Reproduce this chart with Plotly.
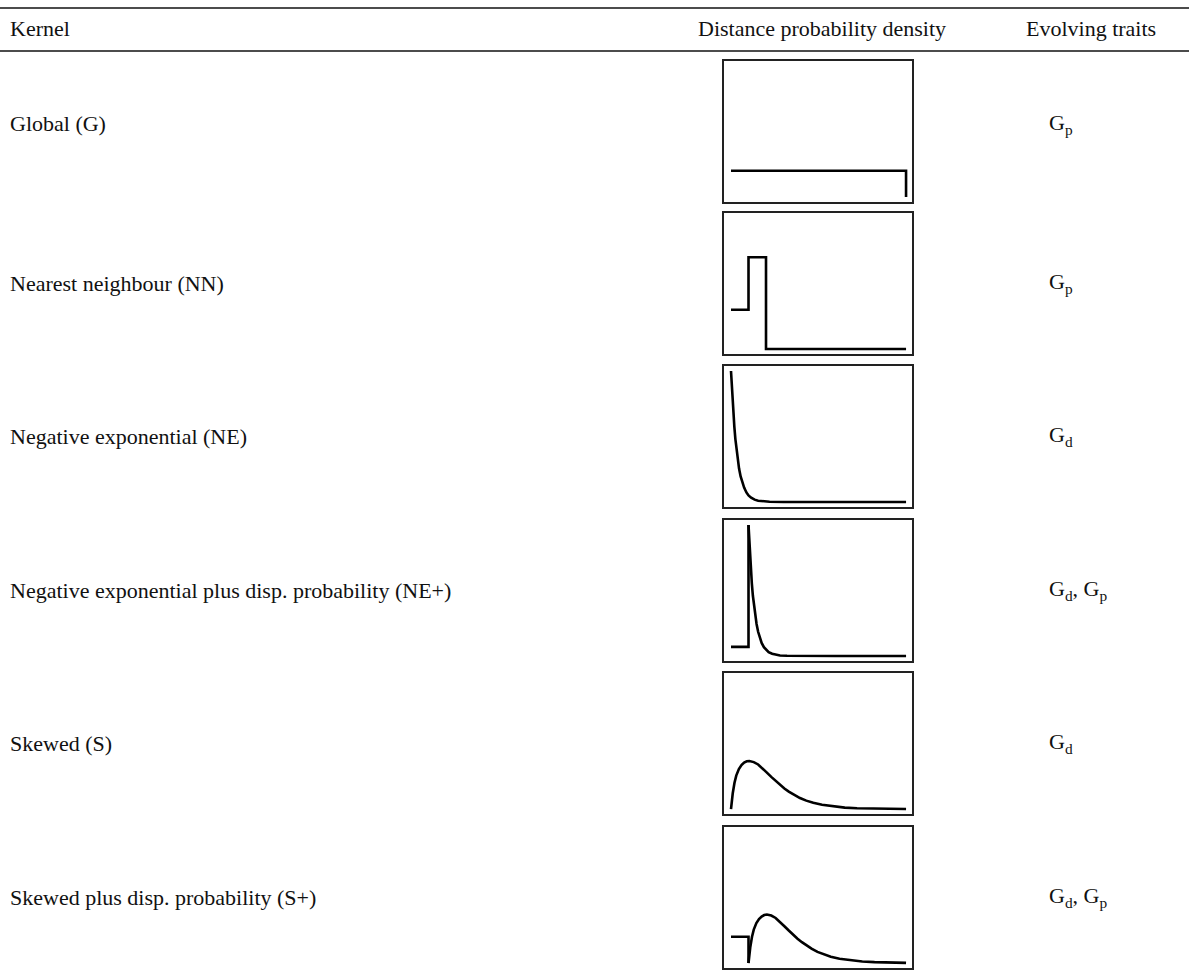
import plotly.graph_objects as go

W, H = 1189, 975

# Table text
header_labels = ["Kernel", "Distance probability density", "Evolving traits"]
kernel_names = [
    "Global (G)",
    "Nearest neighbour (NN)",
    "Negative exponential (NE)",
    "Negative exponential plus disp. probability (NE+)",
    "Skewed (S)",
    "Skewed plus disp. probability (S+)",
]
traits = [
    "G<sub>p</sub>",
    "G<sub>p</sub>",
    "G<sub>d</sub>",
    "G<sub>d</sub>, G<sub>p</sub>",
    "G<sub>d</sub>",
    "G<sub>d</sub>, G<sub>p</sub>",
]

# Kernel shapes (distance on x, relative density on y)
g_x = [0.0, 1.0, 1.0]
g_y = [0.2, 0.2, 0.0]

nn_x = [0.0, 0.1, 0.1, 0.2, 0.2, 1.0]
nn_y = [0.3, 0.3, 0.7, 0.7, 0.0, 0.0]

ne_x = [0.0, 0.004, 0.008, 0.013, 0.019, 0.025, 0.031, 0.038, 0.046, 0.055, 0.064,
        0.075, 0.088, 0.1, 0.115, 0.135, 0.155, 0.18, 0.22, 0.3, 0.5, 1.0]
ne_y = [1.0, 0.89, 0.80, 0.68, 0.575, 0.48, 0.40, 0.32, 0.255, 0.195, 0.15,
        0.11, 0.073, 0.05, 0.033, 0.018, 0.01, 0.005, 0.002, 0.0005, 0.0, 0.0]

nep_step_x = [0.0, 0.1, 0.1]
nep_step_y = [0.07, 0.07, 1.0]
nep_x = [0.1, 0.104, 0.108, 0.113, 0.119, 0.125, 0.131, 0.138, 0.146, 0.155, 0.164,
         0.175, 0.188, 0.2, 0.215, 0.235, 0.255, 0.28, 0.32, 0.4, 0.6, 1.0]
nep_y = [1.0, 0.88, 0.78, 0.66, 0.555, 0.46, 0.385, 0.31, 0.245, 0.185, 0.14,
         0.1, 0.068, 0.047, 0.03, 0.017, 0.009, 0.004, 0.0015, 0.0005, 0.0, 0.0]

s_x = [0.0, 0.005, 0.01, 0.02, 0.03, 0.045, 0.06, 0.075, 0.09, 0.105, 0.13,
       0.155, 0.18, 0.205, 0.23, 0.255, 0.28, 0.305, 0.33, 0.36, 0.394, 0.43,
       0.47, 0.52, 0.585, 0.65, 0.72, 0.8, 0.9, 1.0]
s_y = [0.0, 0.065, 0.12, 0.2, 0.255, 0.305, 0.336, 0.355, 0.364, 0.366, 0.358,
       0.34, 0.312, 0.278, 0.245, 0.213, 0.184, 0.157, 0.133, 0.108, 0.084, 0.064,
       0.047, 0.032, 0.019, 0.011, 0.006, 0.003, 0.001, 0.0]

sp_step_x = [0.0, 0.1, 0.1]
sp_step_y = [0.2, 0.2, 0.0]
sp_x = [0.1, 0.105, 0.11, 0.12, 0.13, 0.145, 0.16, 0.175, 0.19, 0.205, 0.23,
        0.255, 0.28, 0.305, 0.33, 0.355, 0.38, 0.405, 0.43, 0.46, 0.494, 0.53,
        0.57, 0.62, 0.685, 0.75, 0.82, 0.9, 0.96, 1.0]
sp_y = [0.0, 0.065, 0.12, 0.2, 0.255, 0.305, 0.336, 0.355, 0.366, 0.37, 0.362,
        0.344, 0.315, 0.281, 0.248, 0.215, 0.186, 0.159, 0.135, 0.11, 0.085, 0.065,
        0.048, 0.033, 0.02, 0.012, 0.007, 0.003, 0.0015, 0.001]

panels = [
    [(g_x, g_y)],
    [(nn_x, nn_y)],
    [(ne_x, ne_y)],
    [(nep_step_x, nep_step_y), (nep_x, nep_y)],
    [(s_x, s_y)],
    [(sp_step_x, sp_step_y), (sp_x, sp_y)],
]

# Pixel geometry of the table
box_left, box_right = 724, 912
box_tops = [61, 213, 366, 520, 673, 827]
box_h = 141
label_y = [124, 283, 436, 590, 743, 897]
font_family = "Liberation Serif, Times New Roman, serif"
font_size = 22
ink = "#111111"


def px(x):
    return x / W


def py(y):
    return 1 - y / H


fig = go.Figure()
layout_axes = {}
for i, traces in enumerate(panels):
    n = i + 1
    xa = "x" if n == 1 else f"x{n}"
    ya = "y" if n == 1 else f"y{n}"
    for (xs, ys) in traces:
        fig.add_trace(go.Scatter(
            x=xs, y=ys, mode="lines", xaxis=xa, yaxis=ya,
            line=dict(color="black", width=2.6),
            hoverinfo="skip", showlegend=False,
        ))
    top = box_tops[i]
    bot = top + box_h
    axis_style = dict(showline=True, mirror=True, linecolor="#222222", linewidth=1.5,
                      showticklabels=False, ticks="", showgrid=False, zeroline=False,
                      fixedrange=True)
    layout_axes["xaxis" if n == 1 else f"xaxis{n}"] = dict(
        domain=[px(box_left), px(box_right)], range=[-0.04, 1.034],
        anchor=ya, **axis_style)
    layout_axes["yaxis" if n == 1 else f"yaxis{n}"] = dict(
        domain=[py(bot), py(top)], range=[-0.038, 1.038],
        anchor=xa, **axis_style)

fig.update_layout(**layout_axes)

annotations = []


def add_text(text, x, y, xanchor):
    annotations.append(dict(
        text=text, x=px(x), y=py(y), xref="paper", yref="paper",
        xanchor=xanchor, yanchor="middle", showarrow=False,
        font=dict(family=font_family, size=font_size, color=ink),
    ))


add_text(header_labels[0], 8, 29, "left")
add_text(header_labels[1], 822, 29, "center")
add_text(header_labels[2], 1091, 29, "center")
for name, trait, yy in zip(kernel_names, traits, label_y):
    add_text(name, 8, yy, "left")
    add_text(trait, 1047, yy, "left")

shapes = [
    dict(type="line", xref="paper", yref="paper", x0=0, x1=1, y0=py(8), y1=py(8),
         line=dict(color=ink, width=1.4)),
    dict(type="line", xref="paper", yref="paper", x0=0, x1=1, y0=py(51), y1=py(51),
         line=dict(color=ink, width=1.4)),
]

fig.update_layout(
    width=W, height=H, margin=dict(l=0, r=0, t=0, b=0),
    paper_bgcolor="white", plot_bgcolor="white",
    annotations=annotations, shapes=shapes, showlegend=False,
)

fig.write_html("out.html", config={"displayModeBar": False})
